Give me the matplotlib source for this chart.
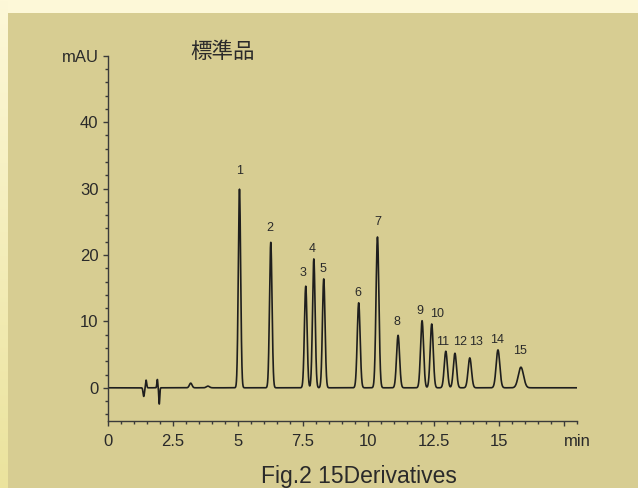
import numpy as np
import matplotlib
matplotlib.use("Agg")
import matplotlib.pyplot as plt
from matplotlib.ticker import MultipleLocator, FixedLocator
from matplotlib.colors import LinearSegmentedColormap

# ---- data ----
peak_labels = ["1", "2", "3", "4", "5", "6", "7", "8", "9", "10", "11", "12", "13", "14", "15"]
peak_times = [5.06, 6.26, 7.60, 7.91, 8.29, 9.63, 10.35, 11.14, 12.06, 12.43, 12.97, 13.32, 13.89, 14.97, 15.85]
peak_heights = [29.9, 21.9, 15.3, 19.4, 16.4, 12.8, 22.7, 7.9, 10.1, 9.6, 5.5, 5.2, 4.5, 5.7, 3.1]
peak_sigmas = [0.045, 0.048, 0.05, 0.05, 0.05, 0.055, 0.055, 0.058, 0.058, 0.058, 0.06, 0.06, 0.065, 0.07, 0.1]

# small unlabeled disturbances near the start
noise_times = [1.39, 1.48, 1.91, 1.985, 3.19, 3.85]
noise_heights = [-1.3, 1.15, 1.25, -2.45, 0.7, 0.25]
noise_sigmas = [0.026, 0.022, 0.018, 0.018, 0.05, 0.06]

x_ticks = [0, 2.5, 5, 7.5, 10, 12.5, 15]
x_ticklabels = ["0", "2.5", "5", "7.5", "10", "12.5", "15"]
y_ticks = [0, 10, 20, 30, 40, 50]
y_ticklabels = ["0", "10", "20", "30", "40", "mAU"]

title_text = "標準品"
caption_text = "Fig.2 15Derivatives"
x_unit = "min"

# label offsets in pixels (styling)
label_dx = [0, -1, -3, -2, -1, -1, 0, -1, -2, 5, -3, 5, 6, -1, -1]
label_dy = [18, 14, 13, 10, 10, 10, 15, 13, 10, 10, 9, 11, 16, 10, 16]

# ---- figure ----
W, H = 638, 488
fig = plt.figure(figsize=(W / 100, H / 100), dpi=100)
fig.patch.set_facecolor("#fdf8d8")

bg = fig.add_axes([0, 0, 1, 1], zorder=-10)
bg.set_xlim(0, W)
bg.set_ylim(H, 0)
bg.axis("off")
grad = np.linspace(0, 1, 256).reshape(-1, 1)
cmap = LinearSegmentedColormap.from_list("g", ["#fdf8d8", "#ebe39d"])
bg.imshow(grad, extent=[0, 8, H, 0], cmap=cmap, aspect="auto", origin="upper")
bg.add_patch(plt.Rectangle((8, 13), W - 8, H - 13, color="#d7cd92", lw=0))

ax = fig.add_axes([107.5 / W, 1 - 421 / H, (577 - 107.5) / W, (421 - 55.7) / H])
ax.patch.set_alpha(0)

t = np.linspace(0, 18, 9000)
sig = np.zeros_like(t)
for rt, h, s in zip(peak_times, peak_heights, peak_sigmas):
    sig += h * np.exp(-0.5 * ((t - rt) / s) ** 2)
for rt, h, s in zip(noise_times, noise_heights, noise_sigmas):
    sig += h * np.exp(-0.5 * ((t - rt) / s) ** 2)

ax.plot(t, sig, color="#1e1e1e", lw=1.2)

txtc = "#2a2a2a"
font = ["Liberation Sans", "DejaVu Sans"]
for lab, rt, h, dx, dy in zip(peak_labels, peak_times, peak_heights, label_dx, label_dy):
    ax.annotate(lab, (rt, h), xytext=(dx, dy), textcoords="offset pixels",
                ha="center", va="center", fontsize=9, color=txtc, family=font)

ax.set_xlim(0, 18)
ax.set_ylim(-5, 50)
for s in ["top", "right"]:
    ax.spines[s].set_visible(False)
for s in ["left", "bottom"]:
    ax.spines[s].set_color("#3a3a3a")
    ax.spines[s].set_linewidth(1.0)

ax.xaxis.set_major_locator(FixedLocator(x_ticks + [17.5]))
ax.set_xticklabels(x_ticklabels + [""])
ax.xaxis.set_minor_locator(MultipleLocator(0.5))
ax.yaxis.set_major_locator(FixedLocator(y_ticks))
ax.set_yticklabels(y_ticklabels)
ax.yaxis.set_minor_locator(MultipleLocator(2))

ax.tick_params(which="major", direction="out", length=3.5, width=1.0, color="#3a3a3a",
               labelsize=12, labelcolor=txtc, pad=6)
ax.tick_params(which="minor", direction="out", length=2.2, width=1.0, color="#3a3a3a")
ax.tick_params(axis="y", pad=3)
for lab in ax.get_xticklabels() + ax.get_yticklabels():
    lab.set_family(font)

ax.annotate(x_unit, (18, -5), xytext=(0, -9.5), textcoords="offset points",
            ha="center", va="top", fontsize=12, color=txtc, family=font, annotation_clip=False)

fig.text(222.5 / W, 1 - 51.5 / H, title_text, ha="center", va="center", fontsize=15.5,
         color=txtc, family=["Noto Sans CJK JP", "DejaVu Sans"])
fig.text(358.5 / W, 1 - 482.7 / H, caption_text, ha="center", va="baseline", fontsize=16.5,
         color=txtc, family=font)

fig.savefig("out.png", dpi=100, facecolor=fig.get_facecolor())
